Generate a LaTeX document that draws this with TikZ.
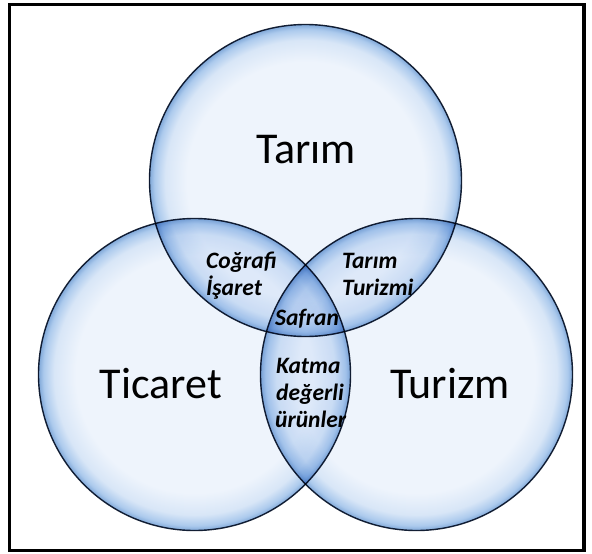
\documentclass[tikz,border=0pt]{standalone}
\usepackage{fontspec}
\setmainfont{Carlito}
\definecolor{bA}{RGB}{238,244,252}
\definecolor{bB}{RGB}{216,230,247}
\definecolor{bC}{RGB}{172,202,237}
\definecolor{bD}{RGB}{128,168,216}
\definecolor{rimline}{RGB}{24,36,56}
\pgfdeclareradialshading{bubble}{\pgfpoint{0bp}{0bp}}{%
  color(0bp)=(bA); color(19bp)=(bA); color(22.5bp)=(bB);
  color(24.2bp)=(bC); color(25bp)=(bD); color(50bp)=(bD)}
\tikzset{
  ring/.style={circle, inner sep=0pt, minimum size=312pt, shading=bubble,
    draw=rimline, line width=1.4pt},
  bigtxt/.style={anchor=base, font=\fontsize{44}{48}\selectfont, text=black, inner sep=0pt},
  smalltxt/.style={anchor=base west, font=\fontsize{23.5}{26}\selectfont\bfseries\itshape, text=black, inner sep=0pt},
}
\begin{document}
\begin{tikzpicture}[x=1pt,y=-1pt]
\useasboundingbox (0,0) rectangle (592,554);
\fill[white] (0,0) rectangle (592,554);
\begin{scope}[blend mode=multiply]
\node[ring] (tarimc) at (305.5,180.5) {};
\node[ring] (ticaretc) at (194.5,374.5) {};
\node[ring] (turizmc) at (416.5,374.5) {};
\end{scope}
\draw[line width=3.6pt] (9.5,4.5) rectangle (584,550.5);
\node[bigtxt] (t1) at (306,163.5) {Tarım};
\node[bigtxt] (t2) at (161,398) {Ticaret};
\node[bigtxt] (t3) at (450,398) {Turizm};
\node[smalltxt] (s1) at (206,268) {Coğrafi};
\node[smalltxt] (s2) at (206,295) {İşaret};
\node[smalltxt] (s3) at (342,268) {Tarım};
\node[smalltxt] (s4) at (342,295) {Turizmi};
\node[smalltxt, anchor=base] (s5) at (307,325) {Safran};
\node[smalltxt] (s6) at (276,373) {Katma};
\node[smalltxt] (s7) at (276,400) {değerli};
\node[smalltxt] (s8) at (275,427) {ürünler};
\end{tikzpicture}
\end{document}
